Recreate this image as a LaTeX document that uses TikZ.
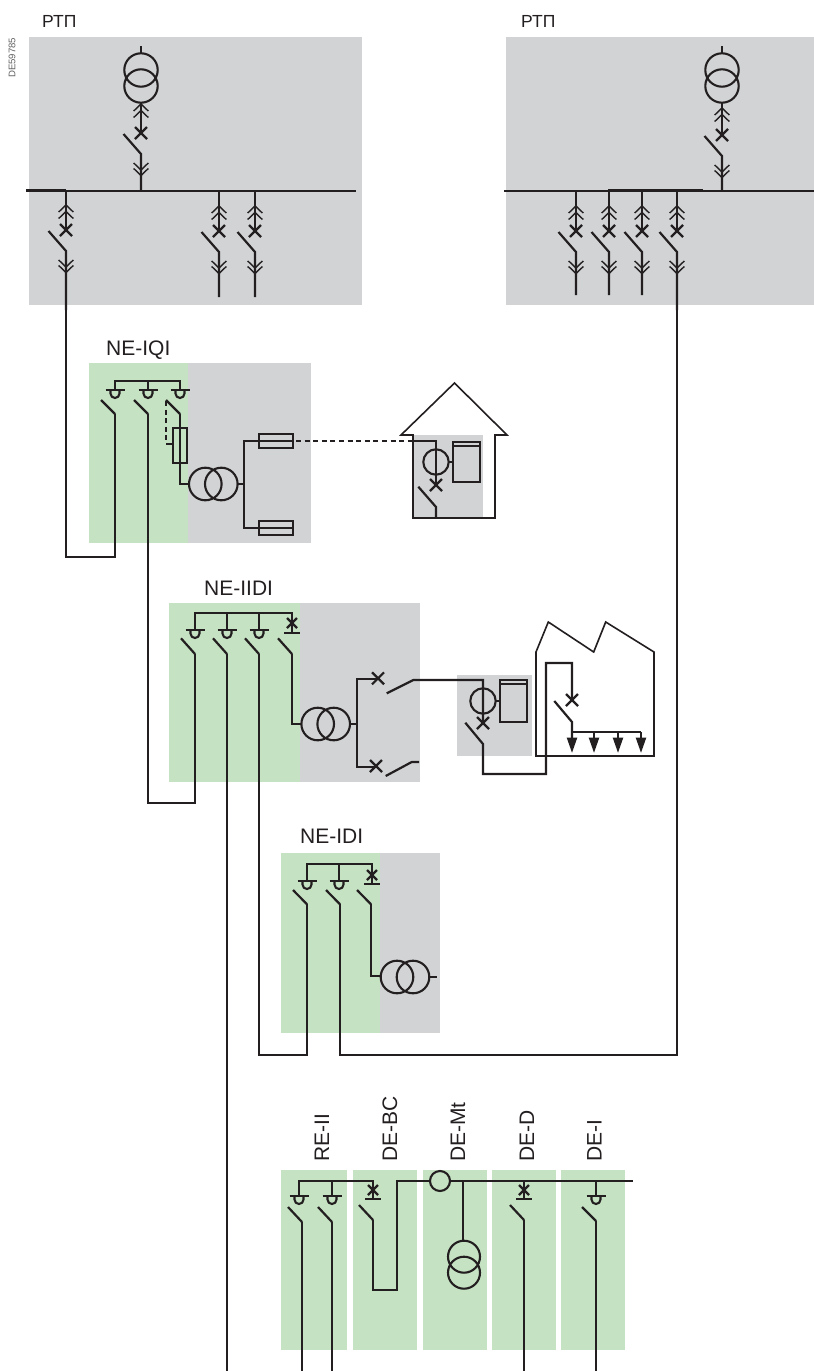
\documentclass[tikz,border=0pt]{standalone}
\usepackage{fontspec}
\setmainfont{Liberation Sans}
\definecolor{ink}{HTML}{231F20}
\definecolor{cellgray}{HTML}{D1D3D4}
\definecolor{cellgreen}{HTML}{C5E2C2}
\tikzset{
  wire/.style={draw=ink,line width=2.2pt},
  thin wire/.style={draw=ink,line width=1.6pt},
  chev/.style={draw=ink,line width=1.4pt},
  ring/.style={draw=ink,line width=2.1pt},
  dashwire/.style={draw=ink,line width=2pt,dash pattern=on 5pt off 3.6pt},
  graybox/.style={fill=cellgray},
  greenbox/.style={fill=cellgreen},
  lab/.style={inner sep=0pt,anchor=base west,text=ink,font=\fontsize{21}{24}\selectfont},
  labr/.style={lab,rotate=90},
  rtp/.style={lab,font=\fontsize{17.5}{20}\selectfont},
}
% cross of a circuit breaker
\newcommand\xmk[3]{\draw[wire] (#1-#3,#2-#3) -- (#1+#3,#2+#3) (#1-#3,#2+#3) -- (#1+#3,#2-#3);}
% withdrawable feeder: x, top, y of cross, bottom, distance of the first chevron above the cross
\newcommand\feeder[5]{%
  \draw[wire] (#1,#2) -- (#1,#3);
  \foreach \t in {0,6.5}{\draw[chev] (#1-7.3,#3-#5+\t+7) -- (#1,#3-#5+\t) -- (#1+7.3,#3-#5+\t+7);}
  \xmk{#1}{#3}{6}
  \draw[wire] (#1-17.5,#3+1) -- (#1,#3+21) -- (#1,#4);
  \foreach \t in {37,42.5}{\draw[chev] (#1-7.3,#3+\t-7) -- (#1,#3+\t) -- (#1+7.3,#3+\t-7);}
}
% vertical transformer
\newcommand\vtrafo[3]{\draw[ring] (#1,#2) circle[radius=#3] (#1,#2+16) circle[radius=#3];}
% horizontal transformer
\newcommand\htrafo[2]{\draw[ring] (#1,#2) circle[radius=16.3] (#1+16,#2) circle[radius=16.3];}
% load-break head: x, bus y, bar y
\newcommand\lbs[3]{%
  \draw[wire] (#1,#2) -- (#1,#3);
  \draw[wire] (#1-9.5,#3) -- (#1+9.5,#3);
  \draw[ring] (#1-4.5,#3) -- (#1-4.5,#3+3.5) arc[start angle=180,end angle=0,radius=4.5] -- (#1+4.5,#3);
}
% breaker head: x, bus y, cross y, bar y
\newcommand\cbh[4]{%
  \draw[wire] (#1,#2) -- (#1,#4);
  \xmk{#1}{#3}{5}
  \draw[wire] (#1-8,#4) -- (#1+8,#4);
}
% blade: x end, y start, y end
\newcommand\blade[3]{\draw[wire] (#1-14,#2) -- (#1,#3);}
% fuse horizontally
\newcommand\hfuse[2]{\draw[wire] (#1,#2-7) rectangle (#1+34,#2+7);}
% meter cell
\newcommand\meter[5]{%
  \draw[ring] (#1,#2) circle[radius=12.7];
  \draw[ring] (#1+12.7,#2) -- (#3,#2);
  \draw[wire] (#3,#4) rectangle (#3+27,#5);
  \draw[wire] (#3,#4+4) -- (#3+27,#4+4);
}
\begin{document}
\begin{tikzpicture}[x=1pt,y=-1pt]
\useasboundingbox (0,0) rectangle (814,1371);
% --- panels ---
\fill[graybox] (29,37) rectangle (362,305);
\fill[graybox] (506,37) rectangle (814,305);
\fill[greenbox] (89,363) rectangle (188,543);
\fill[graybox] (188,363) rectangle (311,543);
\fill[greenbox] (169,603) rectangle (300,782);
\fill[graybox] (300,603) rectangle (420,782);
\fill[greenbox] (281,853) rectangle (380,1033);
\fill[graybox] (380,853) rectangle (440,1033);
\fill[graybox] (413,435) rectangle (483,517);
\fill[graybox] (457.3,675) rectangle (532,755.7);
\fill[greenbox] (281,1170) rectangle (347,1350);
\fill[greenbox] (353,1170) rectangle (417,1350);
\fill[greenbox] (423,1170) rectangle (487,1350);
\fill[greenbox] (492,1170) rectangle (556,1350);
\fill[greenbox] (561,1170) rectangle (625,1350);
% --- labels ---
\node[rtp] (lblA) at (42,27) {РТП};
\node[rtp] (lblB) at (521,27) {РТП};
\node[inner sep=0pt,anchor=base west,rotate=90,text=black!62,font=\fontsize{9.6}{11}\selectfont] (code) at (15.5,78) {DE59785};
\node[lab] (lblIQI) at (106,355) {NE-IQI};
\node[lab] (lblIIDI) at (204,595) {NE-IIDI};
\node[lab] (lblIDI) at (300,843) {NE-IDI};
\node[labr] (lblRE) at (329,1162) {RE-II};
\node[labr] (lblBC) at (397,1162) {DE-BC};
\node[labr] (lblMt) at (465,1162) {DE-Mt};
\node[labr] (lblD) at (534,1162) {DE-D};
\node[labr] (lblI) at (601.7,1162) {DE-I};
% --- left substation ---
\draw[wire] (26,191) -- (356,191);
\draw[wire] (26,190.5) -- (66,190.5);
\draw[wire] (141,46) -- (141,53);
\vtrafo{141}{70}{16.7}
\feeder{141}{103}{133}{191}{29}
\feeder{66}{191}{230}{310}{25}
\feeder{219}{191}{231}{297}{25}
\feeder{255}{191}{231}{297}{25}
% --- right substation ---
\draw[wire] (504,191) -- (814,191);
\draw[wire] (608,190.5) -- (703,190.5);
\draw[wire] (722,46) -- (722,53);
\vtrafo{722}{70}{16.7}
\feeder{722}{103}{135}{191}{27}
\feeder{576}{191}{231}{295}{25}
\feeder{609}{191}{231}{295}{25}
\feeder{642}{191}{231}{295}{25}
\feeder{677}{191}{231}{310}{25}
% --- NE-IQI ---
\draw[wire] (115,390) -- (115,381) -- (180,381) -- (180,390);
\lbs{115}{381}{390}
\lbs{148}{381}{390}
\lbs{180}{381}{390}
\blade{115}{400}{414}
\blade{148}{400}{414}
\blade{180}{400}{414}
\draw[dashwire] (166,401) -- (166,440);
\draw[thin wire] (166,444) -- (173,444);
\draw[wire] (180,414) -- (180,484) -- (189,484);
\draw[wire] (173,428) rectangle (187,463);
\htrafo{205.3}{484}
\draw[wire] (237.5,484) -- (244,484);
\draw[wire] (259,441) -- (244,441) -- (244,528) -- (259,528);
\draw[wire] (259,441) -- (293,441);
\draw[wire] (259,528) -- (293,528);
\hfuse{259}{441}
\hfuse{259}{528}
\draw[dashwire] (296,441) -- (413,441);
% house
\draw[thin wire] (413,435) -- (401,435) -- (454.5,383) -- (507,435) -- (495,435) -- (495,518) -- (413,518) -- cycle;
\draw[wire] (413,441) -- (436,441) -- (436,485);
\meter{436}{462}{453}{442}{482}
\xmk{436}{485}{6}
\draw[wire] (418.3,486.7) -- (436,507) -- (436,518);
% --- NE-IIDI ---
\draw[wire] (195,630) -- (195,613) -- (292,613) -- (292,633);
\lbs{195}{613}{630}
\lbs{227}{613}{630}
\lbs{259}{613}{630}
\cbh{292}{613}{623}{633}
\blade{195}{638.3}{654}
\blade{227}{638.3}{654}
\blade{259}{638.3}{654}
\blade{292}{638.3}{654}
\draw[wire] (292,654) -- (292,724) -- (301,724);
\htrafo{317.7}{724}
\draw[wire] (350,724) -- (357,724);
\draw[wire] (378,679) -- (357,679) -- (357,767) -- (376,767);
\xmk{378}{678.3}{6}
\xmk{376}{766}{6}
\draw[wire] (386.7,693.3) -- (413.3,680) -- (483,680) -- (483,723);
\draw[wire] (385.7,776) -- (411.7,762) -- (419,762);
\meter{483}{701}{500}{680}{722}
\xmk{483}{723}{6}
\draw[wire] (465.3,722.7) -- (483,744) -- (483,774) -- (546,774) -- (546,663) -- (572,663) -- (572,700);
% factory
\draw[thin wire] (536,652) -- (548.3,622) -- (593.7,652) -- (605.7,622) -- (654,652) -- (654,756) -- (536,756) -- cycle;
\xmk{572}{700}{6}
\draw[wire] (554.3,701) -- (572,722) -- (572,738);
\draw[wire] (572,732) -- (641,732);
\foreach \ax in {594,618,641}{\draw[wire] (\ax,732) -- (\ax,738);}
\foreach \ax in {572,594,618,641}{\fill[ink] (\ax-5.3,737.7) -- (\ax+5.3,737.7) -- (\ax,752.7) -- cycle;}
% --- NE-IDI ---
\draw[wire] (307,881) -- (307,864) -- (372,864) -- (372,884);
\lbs{307}{864}{881}
\lbs{339}{864}{881}
\cbh{372}{864}{875}{884}
\blade{307}{890}{904.3}
\blade{340}{890}{904.3}
\blade{371}{890}{904.3}
\draw[wire] (371,904.3) -- (371,976) -- (381,976);
\htrafo{397}{977}
\draw[wire] (429.3,977) -- (437,977);
% --- bottom switchboard ---
\draw[wire] (299,1196) -- (299,1181) -- (373,1181) -- (373,1199);
\draw[wire] (373,1220) -- (373,1290) -- (397,1290) -- (397,1181) -- (430,1181);
\draw[wire] (450,1181) -- (633,1181);
\draw[ring] (440,1181) circle[radius=10];
\lbs{299}{1181}{1196}
\lbs{332}{1181}{1196}
\cbh{373}{1181}{1190}{1199}
\cbh{524}{1181}{1190}{1199}
\lbs{596}{1181}{1196}
\blade{302}{1207}{1222}
\blade{332}{1207}{1222}
\blade{373}{1205}{1220}
\blade{524}{1205}{1220}
\blade{596}{1207}{1221}
\draw[wire] (463,1181) -- (463,1241);
\vtrafo{464}{1256.7}{16}
% --- cables between the units ---
\coordinate (fromL) at (66,310);
\coordinate (fromR) at (677,310);
\coordinate (iqiA) at (115,414);
\coordinate (iqiB) at (148,414);
\coordinate (iidiA) at (195,654);
\coordinate (iidiB) at (227,654);
\coordinate (iidiC) at (259,654);
\coordinate (idiA) at (307,904.3);
\coordinate (idiB) at (340,904.3);
\coordinate (rA) at (302,1222);
\coordinate (rB) at (332,1222);
\coordinate (rD) at (524,1220);
\coordinate (rI) at (596,1221);
\draw[wire] (fromL) -- (66,557) -- (115,557) -- (iqiA);
\draw[wire] (iqiB) -- (148,803) -- (195,803) -- (iidiA);
\draw[wire] (iidiC) -- (259,1055) -- (307,1055) -- (idiA);
\draw[wire] (idiB) -- (340,1055) -- (677,1055) -- (fromR);
\draw[wire] (iidiB) -- (227,1371);
\draw[wire] (rA) -- (302,1371);
\draw[wire] (rB) -- (332,1371);
\draw[wire] (rD) -- (524,1371);
\draw[wire] (rI) -- (596,1371);
\end{tikzpicture}
\end{document}
